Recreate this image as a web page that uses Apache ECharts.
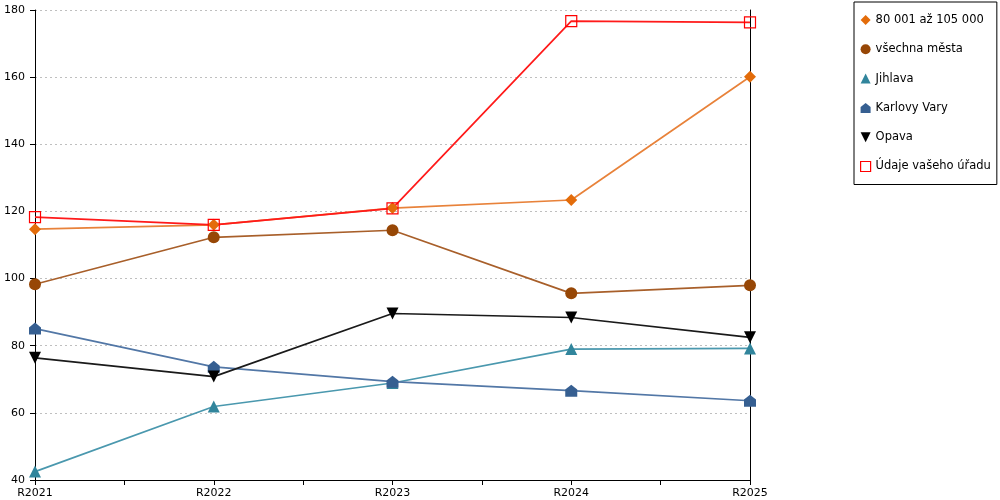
<!DOCTYPE html>
<html>
<head>
<meta charset="utf-8">
<script src="https://cdn.jsdelivr.net/npm/echarts@6/dist/echarts.min.js"></script>
<style>
html, body { margin: 0; padding: 0; background: #fff; }
#main { width: 1000px; height: 500px; }
</style>
</head>
<body>
<div id="main"></div>
<script>
var categories = ['R2021', 'R2022', 'R2023', 'R2024', 'R2025'];
var seriesNames = ['80 001 až 105 000', 'všechna města', 'Jihlava', 'Karlovy Vary', 'Opava', 'Údaje vašeho úřadu'];
var vel80_105 = [114.7, 116.0, 121.0, 123.4, 160.1];
var vsechnaMesta = [98.3, 112.3, 114.4, 95.6, 98.0];
var jihlava = [42.5, 61.9, 68.9, 79.0, 79.2];
var karlovyVary = [85.1, 73.7, 69.3, 66.6, 63.6];
var opava = [76.4, 70.8, 89.6, 88.4, 82.5];
var udajeUradu = [118.3, 116.0, 120.9, 176.7, 176.3];
var yTicks = [40, 60, 80, 100, 120, 140, 160, 180];

var houseIcon = 'path://M5,0 L10,4 L10,10 L0,10 L0,4 Z';
var downTri = 'path://M0,0 L10,0 L5,10 Z';
var FONT = 'DejaVu Sans';

var myChart = echarts.init(document.getElementById('main'));

function pts(arr) {
    return arr.map(function (v, i) { return [i, v]; });
}

function lineSeries(name, data, lineColor, markColor, symbol, size, extra) {
    var s = {
        name: name,
        type: 'line',
        data: pts(data),
        symbol: symbol,
        symbolSize: size,
        lineStyle: { color: lineColor, width: 1.7 },
        itemStyle: { color: markColor },
        emphasis: { disabled: true }
    };
    if (extra) { for (var k in extra) s[k] = extra[k]; }
    return s;
}

var option = {
    animation: false,
    grid: { left: 35, right: 250, top: 10, bottom: 20, containLabel: false },
    legend: {
        orient: 'vertical',
        left: 854,
        top: 2,
        padding: [12, 6, 12, 6],
        itemGap: 17.3,
        itemWidth: 10,
        itemHeight: 10,
        borderColor: '#000',
        borderWidth: 1,
        textStyle: { fontFamily: FONT, fontSize: 11.5, color: '#000' },
        data: [
            { name: seriesNames[0], icon: 'diamond', itemStyle: { color: '#E36C0A' } },
            { name: seriesNames[1], icon: 'circle', itemStyle: { color: '#974706' } },
            { name: seriesNames[2], icon: 'triangle', itemStyle: { color: '#31859C' } },
            { name: seriesNames[3], icon: houseIcon, itemStyle: { color: '#365F91' } },
            { name: seriesNames[4], icon: downTri, itemStyle: { color: '#000' } },
            { name: seriesNames[5], icon: 'rect', itemStyle: { color: '#fff', borderColor: '#FF0000', borderWidth: 1.2 } }
        ]
    },
    xAxis: {
        type: 'value',
        min: 0,
        max: categories.length - 1,
        interval: 0.5,
        axisLine: { lineStyle: { color: '#000', width: 1 } },
        axisTick: { length: 5, lineStyle: { color: '#000' } },
        axisLabel: {
            fontFamily: FONT, fontSize: 11, color: '#000', margin: 8,
            showMinLabel: true, showMaxLabel: true,
            formatter: function (v) { return Number.isInteger(v) ? categories[v] : ''; }
        },
        splitLine: { show: false }
    },
    yAxis: [{
        type: 'value',
        min: yTicks[0],
        max: yTicks[yTicks.length - 1],
        interval: 20,
        axisLine: { show: true, lineStyle: { color: '#000', width: 1 } },
        axisTick: { show: true, length: 5, lineStyle: { color: '#000' } },
        axisLabel: { fontFamily: FONT, fontSize: 11, color: '#000', margin: 10 },
        splitLine: { lineStyle: { color: '#BFBFBF', type: [2, 3], width: 1 } }
    }, {
        type: 'value',
        position: 'right',
        min: yTicks[0],
        max: yTicks[yTicks.length - 1],
        interval: 20,
        axisLine: { show: true, lineStyle: { color: '#000', width: 1 } },
        axisTick: { show: false },
        axisLabel: { show: false },
        splitLine: { show: false }
    }],
    series: [
        lineSeries(seriesNames[0], vel80_105, '#E8823A', '#E36C0A', 'diamond', 12),
        lineSeries(seriesNames[1], vsechnaMesta, '#A85F2A', '#974706', 'circle', 12),
        lineSeries(seriesNames[2], jihlava, '#4A98AE', '#31859C', 'triangle', 12),
        lineSeries(seriesNames[3], karlovyVary, '#5277A6', '#365F91', houseIcon, 12),
        lineSeries(seriesNames[4], opava, '#1A1A1A', '#000000', downTri, 12),
        lineSeries(seriesNames[5], udajeUradu, '#FF1A1A', '#FF0000', 'rect', 11, {
            itemStyle: { color: 'rgba(255,255,255,0)', borderColor: '#FF0000', borderWidth: 1.2 }
        })
    ]
};

myChart.setOption(option);
</script>
</body>
</html>
